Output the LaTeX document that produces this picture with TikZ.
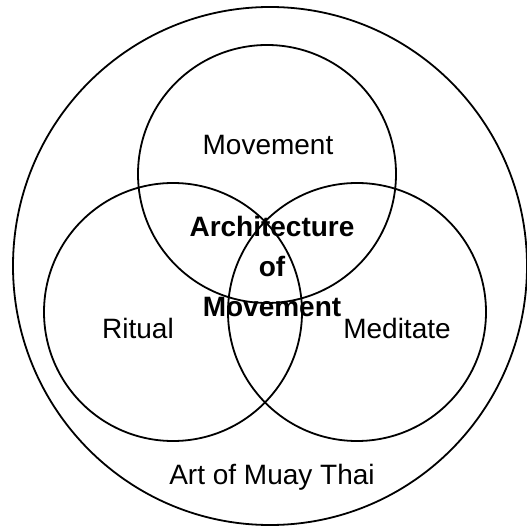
\documentclass[tikz,border=0pt]{standalone}
\usepackage{fontspec}
\setmainfont{Liberation Sans}
\usetikzlibrary{positioning,shapes.geometric}

\begin{document}
\begin{tikzpicture}[x=1pt,y=-1pt,
    ring/.style={circle,draw,line width=1.8pt,minimum size=258pt,inner sep=0pt},
    tag/.style={font=\fontsize{28}{34}\selectfont},
    core/.style={font=\fontsize{28}{40}\selectfont\bfseries,align=center}]
  \useasboundingbox (0,0) rectangle (527,526);

  % outer set
  \node[ellipse,draw,line width=1.8pt,minimum width=514pt,minimum height=518pt,inner sep=0pt] (art) at (270,266) {};

  % the three sets
  \node[ring] (move) at (267,174) {};
  \node[ring] (ritual) at (173,312) {};
  \node[ring] (medit) at (357,312) {};

  % labels
  \node[tag] (movelbl) at (268,145) {Movement};
  \node[tag] (rituallbl) at (138,328) {Ritual};
  \node[tag] (meditlbl) at (397,328) {Meditate};
  \node[tag] (artlbl) at (272,477) {Art of Muay Thai};
  \node[core] (centre) at (272,266) {Architecture\\of\\Movement};
\end{tikzpicture}
\end{document}
